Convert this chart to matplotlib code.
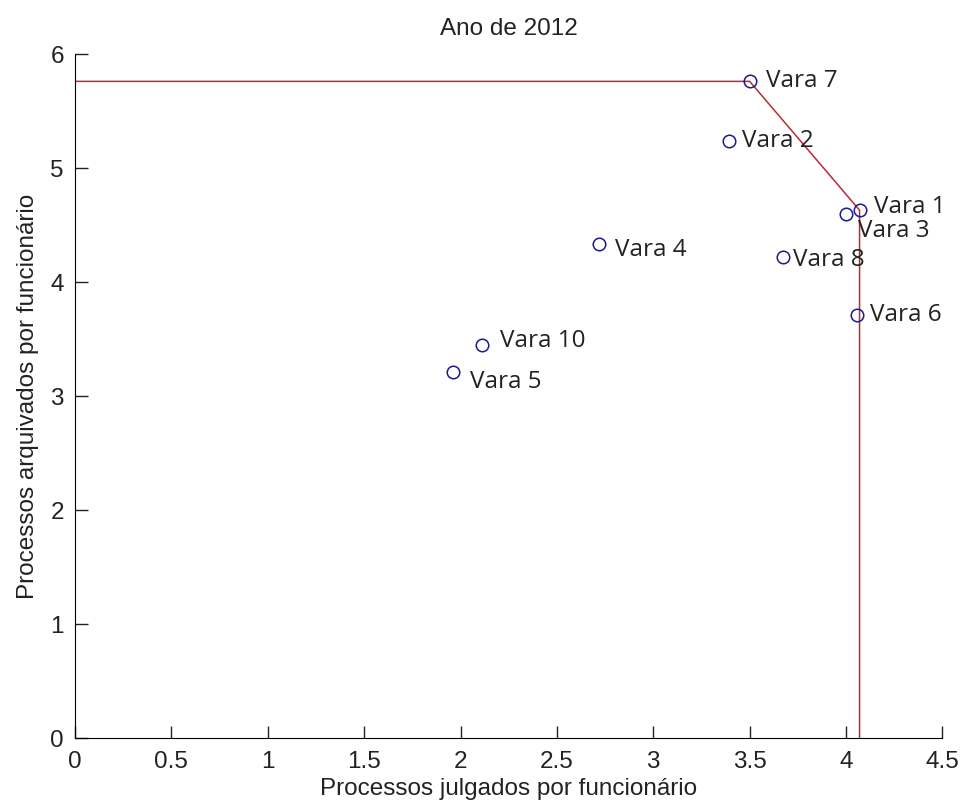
import matplotlib.pyplot as plt

varas = ['Vara 1', 'Vara 2', 'Vara 3', 'Vara 4', 'Vara 5',
         'Vara 6', 'Vara 7', 'Vara 8', 'Vara 10']
julgados = [4.07, 3.395, 4.00, 2.72, 1.96, 4.056, 3.50, 3.675, 2.11]
arquivados = [4.63, 5.24, 4.60, 4.33, 3.21, 3.71, 5.76, 4.22, 3.45]

# fronteira de eficiencia
fronteira_x = [0, 3.50, 4.07, 4.07]
fronteira_y = [5.76, 5.76, 4.63, 0]

# deslocamento dos rotulos (pixels)
desloc = {'Vara 1': (14, 3), 'Vara 2': (13, 0), 'Vara 3': (12, -17),
          'Vara 4': (16, -6), 'Vara 5': (17, -10), 'Vara 6': (13, 0),
          'Vara 7': (16, 0), 'Vara 8': (10, -3), 'Vara 10': (18, 4)}

plt.rcParams['font.family'] = ['Liberation Sans', 'DejaVu Sans']

fig = plt.figure(figsize=(9.67, 8.11), dpi=100)
ax = fig.add_axes([0.0776, 0.090, 0.897, 0.8434])

ax.plot(fronteira_x, fronteira_y, color='#c02838', linewidth=1.1)
ax.plot(julgados, arquivados, 'o', markerfacecolor='none',
        markeredgecolor='#1a1a8c', markersize=9, markeredgewidth=1.1)

for nome, x, y in zip(varas, julgados, arquivados):
    ax.annotate(nome, (x, y), xytext=desloc[nome], textcoords='offset pixels',
                ha='left', va='center', fontsize=17.5,
                family=['Open Sans', 'DejaVu Sans'], color='#222222')

ax.set_xlim(0, 4.5)
ax.set_ylim(0, 6)
ax.set_xticks([0, 0.5, 1, 1.5, 2, 2.5, 3, 3.5, 4, 4.5])
ax.set_xticklabels(['0', '0.5', '1', '1.5', '2', '2.5', '3', '3.5', '4', '4.5'])
ax.set_yticks(range(7))

ax.spines['top'].set_visible(False)
ax.spines['right'].set_visible(False)
ax.tick_params(direction='in', length=9, width=1, labelsize=17.5,
               colors='#222222')
ax.tick_params(axis='x', pad=9)
ax.tick_params(axis='y', pad=8)

ax.set_title('Ano de 2012', fontsize=17.5, pad=14, color='#222222')
ax.set_xlabel('Processos julgados por funcionário', fontsize=17.5,
              color='#222222', labelpad=4)
ax.set_ylabel('Processos arquivados por funcionário', fontsize=17.5,
              color='#222222', labelpad=8)

fig.savefig('out.png', dpi=100)
